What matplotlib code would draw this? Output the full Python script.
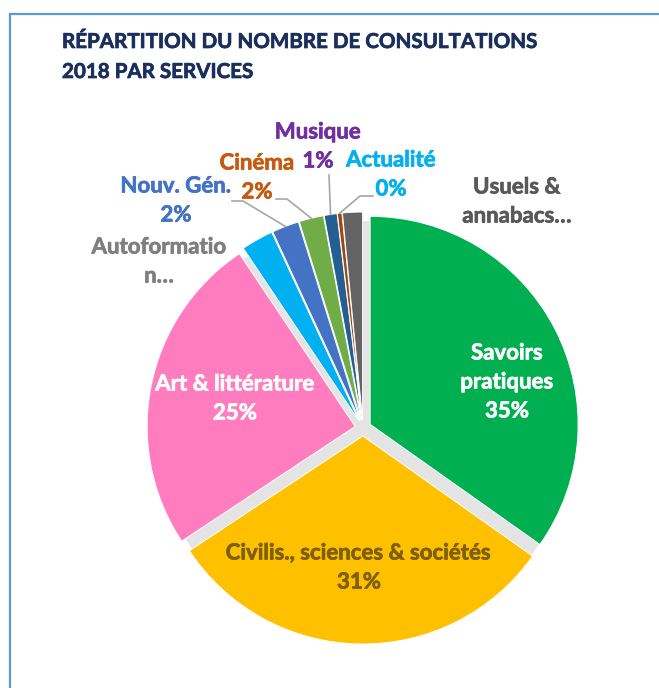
import matplotlib
matplotlib.use("Agg")
import matplotlib.pyplot as plt
import matplotlib.patheffects as pe
import numpy as np

# données
services = ["Savoirs\npratiques", "Civilis., sciences & sociétés", "Art & littérature",
            "Autoformatio\nn…", "Nouv. Gén.", "Cinéma", "Musique", "Actualité",
            "Usuels &\nannabacs…"]
parts = [34.8, 30.9, 24.9, 2.5, 2.1, 1.9, 1.0, 0.35, 1.55]
show_pct = [True, True, True, False, True, True, True, True, False]
slice_colors = ["#00B050", "#FFC000", "#FF7DBE", "#00B0F0", "#4472C4",
                "#70AD47", "#255E91", "#9E480E", "#636363"]
label_colors = ["white", "#7F6000", "white", "#7F7F7F", "#4472C4",
                "#C55A11", "#7030A0", "#00B0F0", "#595959"]

W, H = 659, 688
plt.rcParams['font.family'] = ['Lato', 'DejaVu Sans']

fig = plt.figure(figsize=(W / 100, H / 100), dpi=100)
ax = fig.add_axes([0, 0, 1, 1])


def Y(y):
    return H - y


def bold(c):
    # Lato bold est un peu plus fin que Calibri bold
    return [pe.withStroke(linewidth=0.5, foreground=c)]


# cadre
ax.plot([10, 10, W + 5], [Y(H + 5), Y(14), Y(14)], color="#5B9BD5", lw=1.6,
        solid_joinstyle='miter')

for k, t in enumerate(["RÉPARTITION DU NOMBRE DE CONSULTATIONS", "2018 PAR SERVICES"]):
    ax.text(62, Y(42 + 30 * k), t, fontsize=14.8, fontweight='bold',
            color="#1A2F5C", va='center', ha='left', path_effects=bold("#1A2F5C"))

cx, cy, R = 363, Y(428), 208
# ombre sous le camembert
ax.pie([1], colors=["#E4E4E4"], radius=R + 1, center=(cx + 1, cy - 2), frame=True)
wedges, _ = ax.pie(parts, colors=slice_colors, radius=R, center=(cx, cy),
                   startangle=90, counterclock=False, explode=[8] * len(parts),
                   wedgeprops=dict(edgecolor='white', linewidth=0.7), frame=True)
ax.set_xlim(0, W)
ax.set_ylim(0, H)
ax.set_aspect('equal')
ax.axis('off')

# positions des étiquettes (pixels écran)
label_pos = [(507, 353), (359, 553), (235, 384), (159, 247), (176, 186),
             (257, 163), (318, 132), (391, 160), (517, 187)]
line_gap = 29

for i, name in enumerate(services):
    x, y = label_pos[i]
    lines = name.split("\n")
    if show_pct[i]:
        lines.append(f"{round(parts[i])}%")
    for k, ln in enumerate(lines):
        ax.text(x, Y(y + k * line_gap), ln, fontsize=16, fontweight='bold',
                color=label_colors[i], ha='center', va='center',
                path_effects=bold(label_colors[i]))

# lignes de rappel
leaders = {4: [(232, 201), (243, 201)], 5: [(276, 199), (287, 199)],
           6: [(329, 175)], 7: [(373, 196), (360, 196)]}
for i, pts in leaders.items():
    w = wedges[i]
    th = np.deg2rad((w.theta1 + w.theta2) / 2)
    ex = w.center[0] + w.r * np.cos(th)
    ey = w.center[1] + w.r * np.sin(th)
    xs = [p[0] for p in pts] + [ex]
    ys = [Y(p[1]) for p in pts] + [ey]
    ax.plot(xs, ys, color="#A6A6A6", lw=1.2)

fig.savefig("out.png", dpi=100)
